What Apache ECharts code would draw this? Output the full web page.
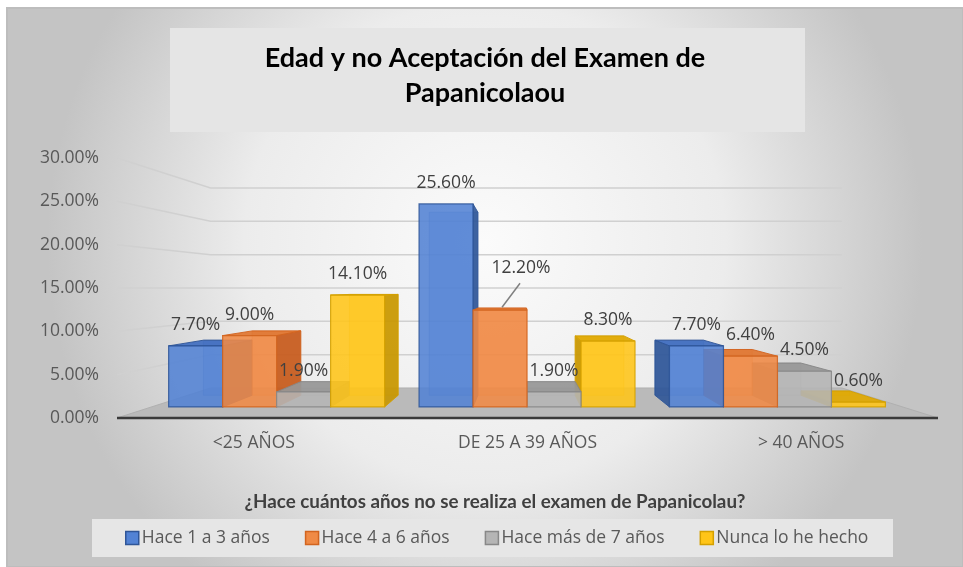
<!DOCTYPE html>
<html>
<head>
<meta charset="utf-8">
<script src="https://cdn.jsdelivr.net/npm/echarts@6/dist/echarts.min.js"></script>
<style>
  html, body { margin: 0; padding: 0; background: #fff; }
  #chart { width: 963px; height: 567px; }
</style>
</head>
<body>
<div id="chart"></div>
<script>
// datos (porcentajes)
const categories = ['<25 AÑOS', 'DE 25 A 39 AÑOS', '> 40 AÑOS'];
const seriesNames = ['Hace 1 a 3 años', 'Hace 4 a 6 años', 'Hace más de 7 años', 'Nunca lo he hecho'];
const hace1a3 = [7.7, 25.6, 7.7];
const hace4a6 = [9.0, 12.2, 6.4];
const haceMas7 = [1.9, 1.9, 4.5];
const nuncaHecho = [14.1, 8.3, 0.6];
const yTicks = [0, 5, 10, 15, 20, 25, 30];

const seriesValues = [hace1a3, hace4a6, haceMas7, nuncaHecho];

// colores estilo Excel
const palette = [
  { front: '#5282d4', side: '#2f5597', top: '#3f6cbf', edge: '#2f5597' },
  { front: '#f08a45', side: '#c55a1c', top: '#e07530', edge: '#d2641f' },
  { front: '#b5b5b5', side: '#878787', top: '#979797', edge: '#888888' },
  { front: '#ffc518', side: '#c79600', top: '#e0a800', edge: '#d4a000' }
];

// perspectiva simple (punto de fuga) para imitar el 3D de Excel
const VP_X = 0.4933, VP_Y = 0.5;
const S_FRONT = 0.915, S_BACK = 0.825, S_WALL = 0.769;
const BAR_RATIO = 0.2156;
const LABEL_FONT = 'Open Sans';

// etiqueta movida a mano en el original (serie 1, categoria 1)
const movedLabel = { series: 1, cat: 1, dx: 21, dy: -21 };

function projector(cs) {
  const vx = cs.x + cs.width * VP_X;
  const vy = cs.y + cs.height * VP_Y;
  return {
    vx: vx, vy: vy,
    p: function (x, y, s) { return [vx + s * (x - vx), vy + s * (y - vy)]; }
  };
}

function renderScene(params, api) {
  const cs = params.coordSys;
  const pr = projector(cs);
  const v = api.value(1);
  const xl = cs.x, xr = cs.x + cs.width;
  const y = api.coord([0, v])[1];
  if (v === 0) {
    return {
      type: 'group',
      children: [
        {
          type: 'polygon',
          z2: 5,
          shape: { points: [pr.p(xl, y, 1), pr.p(xr, y, 1), pr.p(xr, y, S_WALL), pr.p(xl, y, S_WALL)] },
          style: { fill: '#bababa', stroke: '#b0b0b0', lineWidth: 1 }
        },
        {
          type: 'line',
          z2: 6,
          shape: { x1: xl, y1: y, x2: xr, y2: y },
          style: { stroke: '#3a3a3a', lineWidth: 2.5 }
        }
      ]
    };
  }
  const a = pr.p(xl, y, 1), b = pr.p(xl, y, S_WALL), c = pr.p(xr, y, S_WALL);
  return {
    type: 'polyline',
    z2: 1,
    shape: { points: [a, b, c] },
    style: { stroke: '#d0d0d0', lineWidth: 1.5, fill: null }
  };
}

function renderBar(si) {
  return function (params, api) {
    const cs = params.coordSys;
    const pr = projector(cs);
    const cat = api.value(0);
    const val = api.value(1);
    const base = api.coord([cat, 0]);
    const yt = api.coord([cat, val])[1];
    const yb = base[1];
    const w = api.size([1, 0])[0] * BAR_RATIO;
    const x0 = base[0] - 2 * w + si * w;
    const x1 = x0 + w;
    const col = palette[si];
    const P = pr.p;

    const fTL = P(x0, yt, S_FRONT), fTR = P(x1, yt, S_FRONT), fBR = P(x1, yb, S_FRONT), fBL = P(x0, yb, S_FRONT);
    const bTL = P(x0, yt, S_BACK), bTR = P(x1, yt, S_BACK), bBR = P(x1, yb, S_BACK), bBL = P(x0, yb, S_BACK);

    const cx = (fTL[0] + fTR[0]) / 2;
    const order = Math.round((1000 - Math.abs(cx - pr.vx)) * 10);
    const kids = [];

    // cara trasera (se ve por transparencia)
    kids.push({
      type: 'polygon', z2: order,
      shape: { points: [bTL, bTR, bBR, bBL] },
      style: { fill: col.front, opacity: 0.35, stroke: col.edge, lineWidth: 1 }
    });
    // lateral visible
    if (x1 < pr.vx) {
      kids.push({
        type: 'polygon', z2: order + 1,
        shape: { points: [fTR, bTR, bBR, fBR] },
        style: { fill: col.side, opacity: 0.9, stroke: col.edge, lineWidth: 1 }
      });
    } else if (x0 > pr.vx) {
      kids.push({
        type: 'polygon', z2: order + 1,
        shape: { points: [fTL, bTL, bBL, fBL] },
        style: { fill: col.side, opacity: 0.9, stroke: col.edge, lineWidth: 1 }
      });
    }
    // tapa superior si queda bajo el punto de vista
    if (fTL[1] > pr.vy) {
      kids.push({
        type: 'polygon', z2: order + 2,
        shape: { points: [fTL, fTR, bTR, bTL] },
        style: { fill: col.top, opacity: 0.92, stroke: col.edge, lineWidth: 1 }
      });
    }
    // cara frontal
    kids.push({
      type: 'polygon', z2: order + 3,
      shape: { points: [fTL, fTR, fBR, fBL] },
      style: { fill: col.front, opacity: 0.88, stroke: col.edge, lineWidth: 1.2 }
    });

    // etiqueta de datos
    let lx = cx, ly = fTL[1] - 21;
    if (si === movedLabel.series && cat === movedLabel.cat) {
      lx += movedLabel.dx;
      ly += movedLabel.dy;
      kids.push({
        type: 'line', z2: 900000,
        shape: { x1: cx + 2, y1: fTL[1] - 3, x2: lx - 1, y2: ly + 15 },
        style: { stroke: '#7f7f7f', lineWidth: 1.5 }
      });
    }
    kids.push({
      type: 'text', z2: 1000000,
      style: {
        text: val.toFixed(2) + '%', x: lx, y: ly,
        align: 'center', verticalAlign: 'middle',
        fontSize: 17.5, fontFamily: LABEL_FONT, fill: '#404040'
      }
    });
    return { type: 'group', children: kids };
  };
}

const chart = echarts.init(document.getElementById('chart'));

const barSeries = seriesNames.map(function (name, si) {
  return {
    name: name,
    type: 'custom',
    z: 2,
    renderItem: renderBar(si),
    encode: { x: 0, y: 1 },
    itemStyle: { color: palette[si].front, borderColor: palette[si].edge, borderWidth: 1.5 },
    emphasis: { disabled: true },
    data: seriesValues[si].map(function (v, i) { return [i, v]; })
  };
});

chart.setOption({
  animation: false,
  graphic: [
    {
      type: 'rect', z: -10, z2: 0, silent: true,
      shape: { x: 7, y: 8, width: 956, height: 559 },
      style: {
        fill: new echarts.graphic.RadialGradient(0.5, 0.42, 0.78, [
          { offset: 0, color: '#fbfbfb' },
          { offset: 0.55, color: '#ececec' },
          { offset: 1, color: '#c4c4c4' }
        ]),
        stroke: '#bdbdbd', lineWidth: 2
      }
    },
    {
      type: 'rect', z: -10, z2: 1, silent: true,
      shape: { x: 170, y: 28, width: 635, height: 104 },
      style: { fill: '#e5e5e5' }
    },
    {
      type: 'rect', z: -10, z2: 1, silent: true,
      shape: { x: 92, y: 519, width: 801, height: 38 },
      style: { fill: '#e6e6e6' }
    },
    {
      type: 'text', z: 5, silent: true, x: 485, y: 58,
      style: {
        text: 'Edad y no Aceptación del Examen de', align: 'center', verticalAlign: 'middle',
        fontFamily: 'Lato', fontWeight: 'bold', fontSize: 27, fill: '#000'
      }
    },
    {
      type: 'text', z: 5, silent: true, x: 485, y: 93,
      style: {
        text: 'Papanicolaou', align: 'center', verticalAlign: 'middle',
        fontFamily: 'Lato', fontWeight: 'bold', fontSize: 27, fill: '#000'
      }
    },
    {
      type: 'text', z: 5, silent: true, x: 495, y: 502,
      style: {
        text: '¿Hace cuántos años no se realiza el examen de Papanicolau?', align: 'center', verticalAlign: 'middle',
        fontFamily: 'Lato', fontWeight: 'bold', fontSize: 18.8, fill: '#404040'
      }
    }
  ],
  grid: { left: 117, right: 25, top: 158, bottom: 149 },
  legend: {
    data: seriesNames,
    left: 125,
    top: 529,
    padding: 0,
    itemGap: 35,
    itemWidth: 13,
    itemHeight: 13,
    itemStyle: { borderWidth: 1.5 },
    icon: 'rect',
    textStyle: { fontFamily: LABEL_FONT, fontSize: 17.5, color: '#595959', lineHeight: 18, padding: [0, 0, 0, -2] }
  },
  xAxis: {
    type: 'category',
    data: categories,
    axisLine: { show: false },
    axisTick: { show: false },
    splitLine: { show: false },
    axisLabel: { margin: 16, fontFamily: LABEL_FONT, fontSize: 17.5, color: '#595959' }
  },
  yAxis: {
    type: 'value',
    min: 0,
    max: 30,
    interval: 5,
    axisLine: { show: false },
    axisTick: { show: false },
    splitLine: { show: false },
    axisLabel: {
      margin: 18, fontFamily: LABEL_FONT, fontSize: 17.5, color: '#595959',
      formatter: function (v) { return v.toFixed(2) + '%'; }
    }
  },
  series: [
    {
      name: 'escena',
      type: 'custom',
      z: 1,
      silent: true,
      renderItem: renderScene,
      encode: { x: 0, y: 1 },
      data: yTicks.map(function (v) { return [0, v]; })
    }
  ].concat(barSeries)
});
</script>
</body>
</html>
